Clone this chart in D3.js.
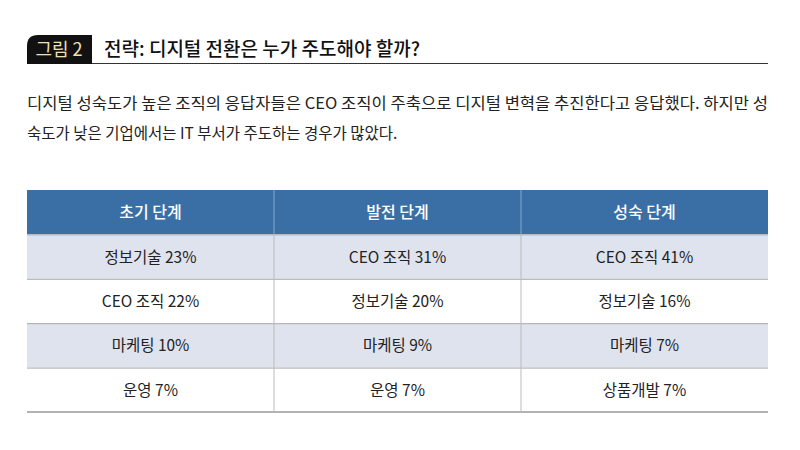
<!DOCTYPE html>
<html><head><meta charset="utf-8">
<script src="https://cdn.jsdelivr.net/npm/d3@7"></script>
<style>body{margin:0;background:#fff}</style></head>
<body><svg id="c" width="800" height="450"></svg>
<script>
const stages = ["초기 단계", "발전 단계", "성숙 단계"];
const rank1 = ["정보기술 23%", "CEO 조직 31%", "CEO 조직 41%"];
const rank2 = ["CEO 조직 22%", "정보기술 20%", "정보기술 16%"];
const rank3 = ["마케팅 10%", "마케팅 9%", "마케팅 7%"];
const rank4 = ["운영 7%", "운영 7%", "상품개발 7%"];
const rows = [rank1, rank2, rank3, rank4];
const font = "'Noto Sans CJK KR', 'Noto Sans', sans-serif";

const svg = d3.select("#c");
svg.append("path").attr("d", "M38,35 H92 V64 H27 V46 Q27,35 38,35 Z").attr("fill", "#111");
svg.append("text").attr("x", 59).attr("y", 56).attr("text-anchor", "middle")
  .attr("font-family", font).attr("font-size", 18).attr("fill", "#efe0b0").text("그림 2");
svg.append("line").attr("x1", 92).attr("x2", 768).attr("y1", 63.5).attr("y2", 63.5).attr("stroke", "#333").attr("stroke-width", 1);
svg.append("text").attr("x", 104).attr("y", 56).attr("font-family", font).attr("font-size", 19)
  .attr("font-weight", 500).attr("fill", "#111").text("전략: 디지털 전환은 누가 주도해야 할까?");
const sub = ["디지털 성숙도가 높은 조직의 응답자들은 CEO 조직이 주축으로 디지털 변혁을 추진한다고 응답했다. 하지만 성",
             "숙도가 낮은 기업에서는 IT 부서가 주도하는 경우가 많았다."];
sub.forEach((s, i) => {
  const t = svg.append("text").attr("x", 27).attr("y", 109 + i * 30).attr("font-family", font)
    .attr("font-size", 15.5).attr("fill", "#222").text(s);
  if (i === 0) t.attr("textLength", 741).attr("lengthAdjust", "spacingAndGlyphs");
});

const x = d3.scaleBand().domain(d3.range(3)).range([27, 768]);
const y = d3.scaleBand().domain(d3.range(5)).range([190, 412]);
const g = svg.append("g");
g.append("rect").attr("x", 27).attr("y", y(0)).attr("width", 741).attr("height", y.bandwidth()).attr("fill", "#3a6fa6");
rows.forEach((r, i) => {
  if (i % 2 === 0) g.append("rect").attr("x", 27).attr("y", y(i + 1)).attr("width", 741).attr("height", y.bandwidth()).attr("fill", "#dfe3ee");
});
stages.forEach((s, j) => {
  g.append("text").attr("x", x(j) + x.bandwidth() / 2).attr("y", y(0) + y.bandwidth() / 2 + 6)
    .attr("text-anchor", "middle").attr("font-family", font).attr("font-size", 16).attr("font-weight", 500).attr("fill", "#fff").text(s);
});
rows.forEach((r, i) => {
  r.forEach((t, j) => {
    g.append("text").attr("x", x(j) + x.bandwidth() / 2).attr("y", y(i + 1) + y.bandwidth() / 2 + 6)
      .attr("text-anchor", "middle").attr("font-family", font).attr("font-size", 15.5).attr("fill", "#222").text(t);
  });
});
d3.range(1, 5).forEach(i => {
  g.append("line").attr("x1", 27).attr("x2", 768).attr("y1", y(i) + 0.5).attr("y2", y(i) + 0.5).attr("stroke", "#aaa");
});
g.append("line").attr("x1", 27).attr("x2", 768).attr("y1", 412).attr("y2", 412).attr("stroke", "#666");
[1, 2].forEach(j => {
  g.append("line").attr("x1", x(j)).attr("x2", x(j)).attr("y1", y(0)).attr("y2", y(1)).attr("stroke", "#8aa6c8");
  g.append("line").attr("x1", x(j)).attr("x2", x(j)).attr("y1", y(1)).attr("y2", 412).attr("stroke", "#bbb");
});
</script></body></html>
